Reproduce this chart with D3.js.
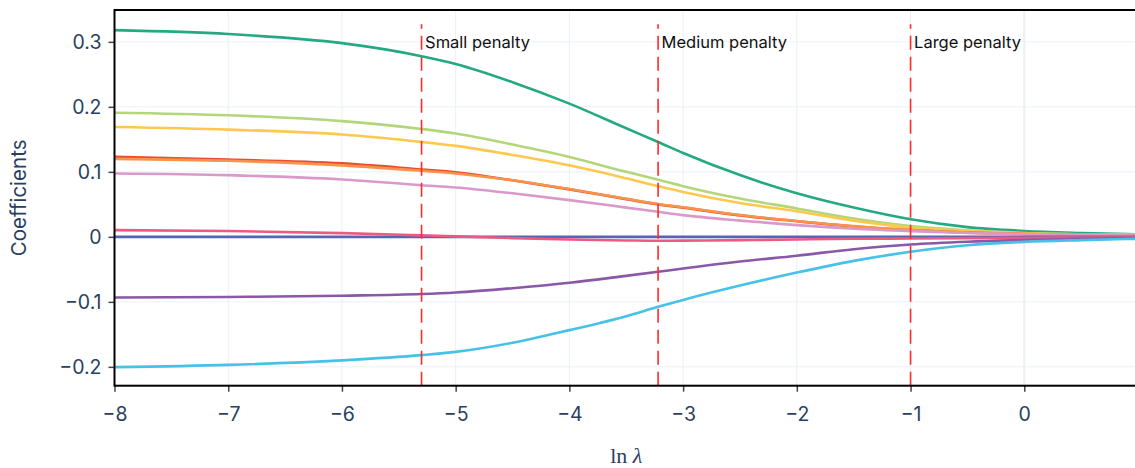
<!DOCTYPE html>
<html>
<head>
<meta charset="utf-8">
<script src="https://cdn.jsdelivr.net/npm/d3@7"></script>
<style>
  html, body { margin: 0; padding: 0; background: #fff; overflow: hidden; }
  svg { display: block; }
</style>
</head>
<body>
<svg id="chart" width="1135" height="468"></svg>
<script>
// ---- data ----
const lnLambda = [-8, -7, -6, -5.3, -5, -4.5, -4, -3.5, -3.22, -3, -2.5, -2, -1.5, -1, -0.5, 0, 0.5, 1];

const coefTeal     = [0.318, 0.312, 0.298, 0.278, 0.266, 0.238, 0.205, 0.167, 0.146, 0.129, 0.095, 0.067, 0.045, 0.027, 0.015, 0.009, 0.006, 0.004];
const coefGreen    = [0.191, 0.187, 0.178, 0.166, 0.159, 0.142, 0.123, 0.100, 0.088, 0.078, 0.059, 0.0437, 0.028, 0.0165, 0.010, 0.006, 0.004, 0.003];
const coefYellow   = [0.169, 0.165, 0.1575, 0.146, 0.140, 0.126, 0.110, 0.090, 0.078, 0.069, 0.052, 0.0395, 0.025, 0.0144, 0.009, 0.0055, 0.004, 0.003];
const coefRed      = [0.123, 0.119, 0.113, 0.1037, 0.0995, 0.087, 0.073, 0.058, 0.050, 0.045, 0.033, 0.024, 0.016, 0.0105, 0.0065, 0.0045, 0.003, 0.002];
const coefOrange   = [0.120, 0.117, 0.110, 0.1016, 0.0975, 0.087, 0.0735, 0.0585, 0.0505, 0.0455, 0.0335, 0.0245, 0.0165, 0.0105, 0.0068, 0.0045, 0.003, 0.002];
const coefLavender = [0.0975, 0.0949, 0.0883, 0.0795, 0.076, 0.067, 0.0565, 0.045, 0.0385, 0.0334, 0.025, 0.018, 0.0125, 0.0088, 0.006, 0.004, 0.003, 0.002];
const coefBlue     = [0, 0, 0, 0, 0, 0, 0, 0, 0, 0, 0, 0, 0, 0, 0, 0, 0, 0];
const coefPink     = [0.0103, 0.0089, 0.0058, 0.0023, 0.0008, -0.002, -0.004, -0.0055, -0.006, -0.0058, -0.005, -0.004, -0.003, -0.0025, -0.002, -0.0015, -0.001, -0.001];
const coefPurple   = [-0.0933, -0.0925, -0.0905, -0.088, -0.0856, -0.079, -0.0707, -0.060, -0.0538, -0.0487, -0.038, -0.029, -0.019, -0.0117, -0.0075, -0.005, -0.003, -0.002];
const coefCyan     = [-0.2005, -0.197, -0.19, -0.182, -0.177, -0.163, -0.1435, -0.122, -0.1077, -0.097, -0.075, -0.055, -0.037, -0.023, -0.013, -0.0077, -0.005, -0.003];

const seriesList = [coefTeal, coefGreen, coefYellow, coefRed, coefOrange, coefLavender, coefBlue, coefPink, coefPurple, coefCyan];
const seriesColors = ["#25a982", "#b3d67a", "#fdc84e", "#ec4c2e", "#f7944c", "#d99ac9", "#5566b0", "#ec5a84", "#8a58a6", "#46c1e8"];

const penaltyX = [-5.3, -3.22, -1];
const penaltyLabels = ["Small penalty", "Medium penalty", "Large penalty"];
const penaltyLineTop = 0.327;
const penaltyLabelY = 0.3;

const xTicks = [-8, -7, -6, -5, -4, -3, -2, -1, 0, 1];
const yTicks = [-0.2, -0.1, 0, 0.1, 0.2, 0.3];
const xDomain = [-8, 1];
const yDomain = [-0.229, 0.349];

// ---- layout ----
const L = 114.5, R = 1138, T = 10, B = 385.7;
const svg = d3.select("#chart");
const x = d3.scaleLinear().domain(xDomain).range([L, R]);
const y = d3.scaleLinear().domain(yDomain).range([B, T]);
const tickColor = "#2a3f5f";
const font = "Inter, Roboto, sans-serif";

// grid
const grid = svg.append("g");
grid.selectAll("line.gx").data(xTicks).enter().append("line")
  .attr("x1", d => x(d)).attr("x2", d => x(d)).attr("y1", T).attr("y2", B)
  .attr("stroke", "#ebf0f8").attr("stroke-width", d => d === 0 ? 2 : 1);
grid.selectAll("line.gy").data(yTicks).enter().append("line")
  .attr("x1", L).attr("x2", R).attr("y1", d => y(d)).attr("y2", d => y(d))
  .attr("stroke", "#ebf0f8").attr("stroke-width", 1);

// lines
svg.append("clipPath").attr("id", "clip").append("rect")
  .attr("x", L).attr("y", T).attr("width", R - L).attr("height", B - T);
const lineGen = d3.line().x(d => x(d[0])).y(d => y(d[1])).curve(d3.curveMonotoneX);
const lines = svg.append("g").attr("clip-path", "url(#clip)");
seriesList.forEach((vals, i) => {
  lines.append("path")
    .datum(lnLambda.map((l, j) => [l, vals[j]]))
    .attr("d", lineGen)
    .attr("fill", "none")
    .attr("stroke", seriesColors[i])
    .attr("stroke-width", 2.6)
    .attr("stroke-linejoin", "round");
});

// penalty lines
const pen = svg.append("g");
pen.selectAll("line").data(penaltyX).enter().append("line")
  .attr("x1", d => x(d)).attr("x2", d => x(d))
  .attr("y1", B).attr("y2", y(penaltyLineTop))
  .attr("stroke", "#ff2a2a").attr("stroke-width", 1.6)
  .attr("stroke-dasharray", "14,7");
pen.selectAll("text").data(penaltyX).enter().append("text")
  .attr("x", d => x(d) + 3.5).attr("y", y(penaltyLabelY))
  .attr("dy", "0.35em")
  .attr("font-family", font).attr("font-size", 16.5).attr("fill", "#111")
  .text((d, i) => penaltyLabels[i]);

// axes
const xAxis = d3.axisBottom(x).tickValues(xTicks).tickSize(6).tickPadding(15)
  .tickFormat(d => d3.format("")(d).replace("-", "\u2212"));
const gx = svg.append("g").attr("transform", `translate(0,${B})`).call(xAxis);
const yAxis = d3.axisLeft(y).tickValues(yTicks).tickSize(6).tickPadding(7)
  .tickFormat(d => (d === 0 ? "0" : d3.format(".1f")(d)).replace("-", "\u2212"));
const gy = svg.append("g").attr("transform", `translate(${L},0)`).call(yAxis);
[gx, gy].forEach(g => {
  g.select(".domain").remove();
  g.selectAll(".tick line").attr("stroke", "#444").attr("stroke-width", 1.5);
  g.selectAll(".tick text").attr("fill", tickColor).attr("font-family", font).attr("font-size", 19.5);
});
gx.selectAll(".tick text").attr("dy", "0.71em");

// frame
svg.append("rect").attr("x", L).attr("y", T).attr("width", R - L).attr("height", B - T)
  .attr("fill", "none").attr("stroke", "#000").attr("stroke-width", 2);

// titles
svg.append("text")
  .attr("transform", `translate(26,${(T + B) / 2}) rotate(-90)`)
  .attr("text-anchor", "middle")
  .attr("font-family", font).attr("font-size", 20.5).attr("fill", tickColor)
  .text("Coefficients");

const xt = svg.append("text")
  .attr("x", (L + R) / 2).attr("y", 463)
  .attr("text-anchor", "middle")
  .attr("font-family", "'Liberation Serif', 'DejaVu Serif', serif").attr("font-size", 22).attr("fill", "#2a3f5f");
xt.append("tspan").text("ln ");
xt.append("tspan").attr("font-style", "italic").text("λ");
</script>
</body>
</html>
